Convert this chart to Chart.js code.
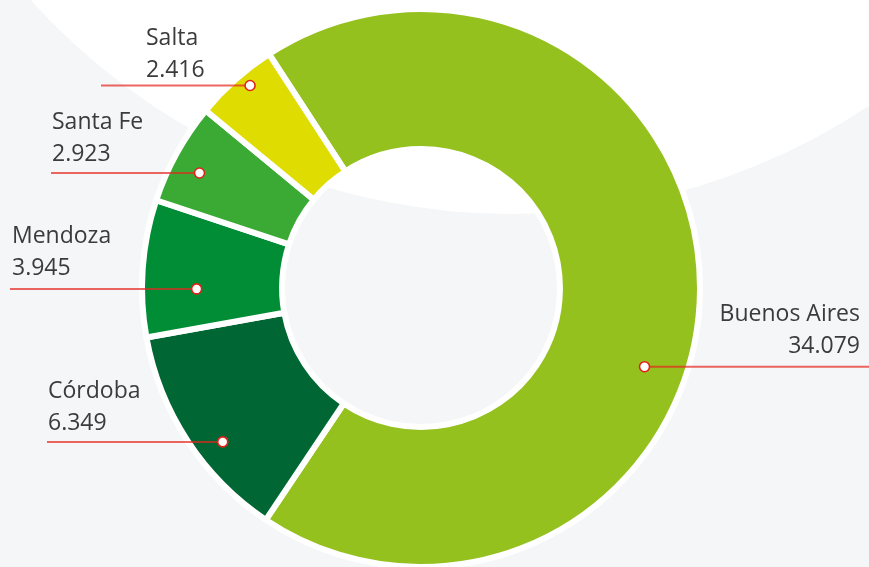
<!DOCTYPE html>
<html>
<head>
<meta charset="utf-8">
<script src="https://cdn.jsdelivr.net/npm/chart.js@4"></script>
<style>
  html, body { margin: 0; padding: 0; background: #f5f6f8; }
  canvas { display: block; }
</style>
</head>
<body>
<canvas id="c" width="869" height="567"></canvas>
<script>
// ---- data ----
const provinces = ['Buenos Aires', 'Córdoba', 'Mendoza', 'Santa Fe', 'Salta'];
const values = [34079, 6349, 3945, 2923, 2416];
const colors = ['#95c11f', '#006633', '#008d36', '#3aaa35', '#dedc00'];

// ---- label layout (angle fraction within slice, radial fraction, line end x, text x, align, baseline offset) ----
const dotAngleFrac = [0.577, 0.40, 0.35, 0.43, 0.59];
const dotRadiusFrac = [0.70, 0.80, 0.61, 0.79, 0.90];
const lineEndX = [869, 47, 10, 51, 101];
const textX = [860, 48, 12, 52, 146];
const textAlign = ['right', 'left', 'left', 'left', 'left'];
const textGap = [14, 12, 14, 12, 9];

function fmt(v) {
  return String(v).replace(/\B(?=(\d{3})+(?!\d))/g, '.');
}

const bgPlugin = {
  id: 'bg',
  beforeDraw(chart) {
    const ctx = chart.ctx;
    ctx.save();
    ctx.fillStyle = '#f5f6f8';
    ctx.fillRect(0, 0, chart.width, chart.height);
    ctx.fillStyle = '#ffffff';
    ctx.beginPath();
    ctx.arc(511, -432, 646, 0, Math.PI * 2);
    ctx.fill();
    ctx.restore();
  }
};

const calloutPlugin = {
  id: 'callouts',
  afterDatasetsDraw(chart) {
    const ctx = chart.ctx;
    const meta = chart.getDatasetMeta(0);
    ctx.save();
    meta.data.forEach((arc, i) => {
      const p = arc.getProps(['x', 'y', 'startAngle', 'endAngle', 'innerRadius', 'outerRadius'], true);
      const a = p.startAngle + dotAngleFrac[i] * (p.endAngle - p.startAngle);
      const r = p.innerRadius + dotRadiusFrac[i] * (p.outerRadius - p.innerRadius);
      const dx = p.x + r * Math.cos(a);
      const dy = p.y + r * Math.sin(a);
      // leader line
      ctx.strokeStyle = 'rgba(228, 38, 30, 0.7)';
      ctx.lineWidth = 2;
      ctx.beginPath();
      ctx.moveTo(lineEndX[i], dy);
      ctx.lineTo(dx, dy);
      ctx.stroke();
      // dot
      ctx.beginPath();
      ctx.arc(dx, dy, 5, 0, Math.PI * 2);
      ctx.fillStyle = '#ffffff';
      ctx.fill();
      ctx.lineWidth = 1.6;
      ctx.strokeStyle = '#e2231a';
      ctx.stroke();
      // text
      ctx.fillStyle = '#3b3b3b';
      ctx.font = '23px "Open Sans"';
      ctx.textAlign = textAlign[i];
      ctx.textBaseline = 'alphabetic';
      const b2 = dy - textGap[i];
      ctx.fillText(fmt(values[i]), textX[i], b2);
      ctx.fillText(provinces[i], textX[i], b2 - 32);
    });
    ctx.restore();
  }
};

new Chart(document.getElementById('c'), {
  type: 'doughnut',
  data: {
    labels: provinces,
    datasets: [{
      data: values,
      backgroundColor: colors,
      borderColor: '#ffffff',
      borderWidth: 6,
      hoverOffset: 0
    }]
  },
  options: {
    responsive: false,
    animation: false,
    rotation: -33,
    radius: 279,
    cutout: '49.8%',
    layout: { padding: { left: 0, right: 27, top: 9, bottom: 0 } },
    plugins: {
      legend: { display: false },
      tooltip: { enabled: false }
    }
  },
  plugins: [bgPlugin, calloutPlugin]
});
</script>
</body>
</html>
